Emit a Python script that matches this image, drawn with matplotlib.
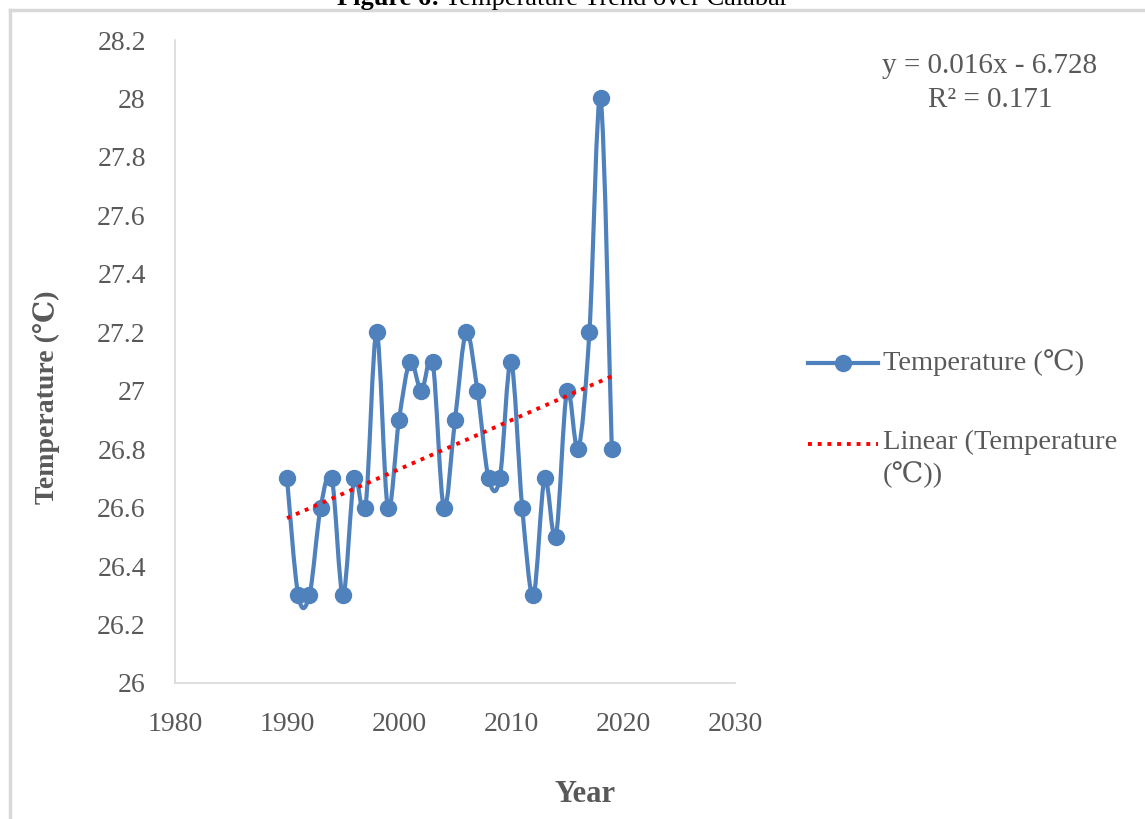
import numpy as np
import matplotlib
matplotlib.use("Agg")
import matplotlib.pyplot as plt
from matplotlib.lines import Line2D
from matplotlib.path import Path
from matplotlib.patches import PathPatch

plt.rcParams["font.family"] = ["Liberation Serif", "DejaVu Serif"]

years = list(range(1990, 2020))
temps = [26.7, 26.3, 26.3, 26.6, 26.7, 26.3, 26.7, 26.6, 27.2, 26.6,
         26.9, 27.1, 27.0, 27.1, 26.6, 26.9, 27.2, 27.0, 26.7, 26.7,
         27.1, 26.6, 26.3, 26.7, 26.5, 27.0, 26.8, 27.2, 28.0, 26.8]
yticks = [26, 26.2, 26.4, 26.6, 26.8, 27, 27.2, 27.4, 27.6, 27.8, 28, 28.2]
xticks = [1980, 1990, 2000, 2010, 2020, 2030]

blue = "#4F81BD"
gray = "#595959"
W, H = 1145, 819


def smooth_path(x, y):
    # Excel-style smoothed line: Catmull-Rom segments as cubic Beziers
    p = np.column_stack([x, y]).astype(float)
    ext = np.vstack([p[0], p, p[-1]])
    verts = [p[0]]
    codes = [Path.MOVETO]
    for i in range(len(p) - 1):
        p0, p1, p2, p3 = ext[i], ext[i + 1], ext[i + 2], ext[i + 3]
        verts += [p1 + (p2 - p0) / 6, p2 - (p3 - p1) / 6, p2]
        codes += [Path.CURVE4] * 3
    return Path(verts, codes)


fig = plt.figure(figsize=(W / 100, H / 100), dpi=100)
ax = fig.add_axes([175 / W, 1 - 683 / H, 560 / W, 643 / H])

ax.add_patch(PathPatch(smooth_path(years, temps), fill=False, edgecolor=blue,
                       lw=3.0, capstyle="round", joinstyle="round", zorder=2))
ax.plot(years, temps, ls="none", color=blue, marker="o", ms=11.5, zorder=3)

# linear trend
coef = np.polyfit(years, temps, 1)
trend = np.polyval(coef, years)
ax.plot(years, trend, color="red", lw=2.8, ls=(0, (1, 1.5)), zorder=4)

ax.set_xlim(1980, 2030)
ax.set_ylim(26, 28.2)
ax.set_xticks(xticks)
ax.set_yticks(yticks)
ax.set_yticklabels([f"{v:g}" for v in yticks])
ax.tick_params(length=0, labelsize=20, colors=gray)
ax.tick_params(axis="y", pad=21)
ax.tick_params(axis="x", pad=21)
for s in ["top", "right"]:
    ax.spines[s].set_visible(False)
for s in ["left", "bottom"]:
    ax.spines[s].set_color("#D9D9D9")
    ax.spines[s].set_linewidth(1.2)

fig.text(47 / W, 1 - 397 / H, "Temperature (℃)", fontsize=20, fontweight="bold",
         color=gray, rotation=90, ha="center", va="center")
fig.text(585 / W, 1 - 795 / H, "Year", fontsize=22, fontweight="bold",
         color=gray, ha="center", va="center")

# legend, drawn by hand
fig.add_artist(Line2D([808 / W, 878 / W], [1 - 363 / H] * 2, color=blue, lw=3.0,
                      transform=fig.transFigure))
fig.add_artist(Line2D([843 / W], [1 - 363 / H], color=blue, marker="o", ms=11.5,
                      transform=fig.transFigure))
fig.add_artist(Line2D([808 / W, 878 / W], [1 - 444 / H] * 2, color="red", lw=2.8,
                      ls=(0, (1, 1.5)), transform=fig.transFigure))
fig.text(883 / W, 1 - 363 / H, "Temperature (℃)", fontsize=20.5, color=gray,
         ha="left", va="center")
fig.text(883 / W, 1 - 430 / H, "Linear (Temperature\n(℃))", fontsize=20.5,
         color=gray, ha="left", va="top", linespacing=1.3)

# equation
fig.text(990 / W, 1 - 66 / H, "y = 0.016x - 6.728", fontsize=21, color=gray,
         ha="center", va="center")
fig.text(990 / W, 1 - 100 / H, "R² = 0.171", fontsize=21, color=gray,
         ha="center", va="center")

# cut-off caption and page frame
fig.text(440 / W, 1 - 5 / H, "Figure 6:", fontsize=19, fontweight="bold",
         ha="right", va="baseline")
fig.text(445 / W, 1 - 5 / H, "Temperature Trend over Calabar", fontsize=19,
         ha="left", va="baseline")
fig.add_artist(Line2D([10 / W, 1], [1 - 10 / H] * 2, color="#D9D9D9", lw=2.5,
                      transform=fig.transFigure))
fig.add_artist(Line2D([10 / W] * 2, [0, 1 - 10 / H], color="#D9D9D9", lw=2.5,
                      transform=fig.transFigure))

fig.savefig("out.png", dpi=100)
